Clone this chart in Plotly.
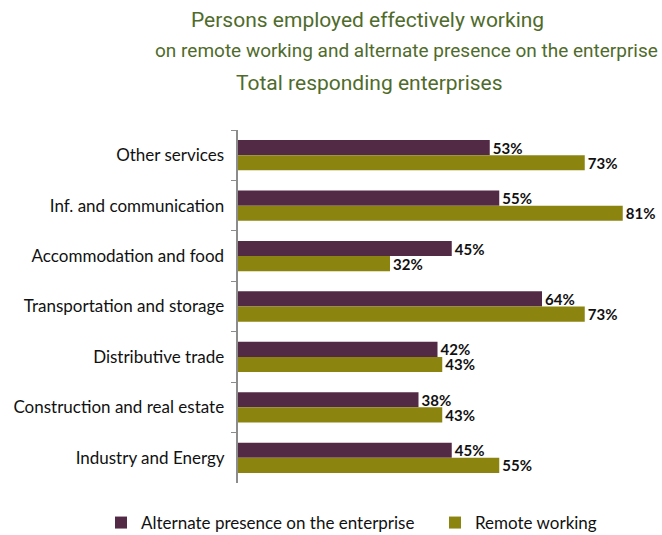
import plotly.graph_objects as go

categories = [
    "Other services",
    "Inf. and communication",
    "Accommodation and food",
    "Transportation and storage",
    "Distributive trade",
    "Construction and real estate",
    "Industry and Energy",
]
alternate_presence = [53, 55, 45, 64, 42, 38, 45]
remote_working = [73, 81, 32, 73, 43, 43, 55]

series_names = ["Alternate presence on the enterprise", "Remote working"]
title_lines = [
    "Persons employed effectively working",
    "on remote working and alternate presence on the enterprise",
    "Total responding enterprises",
]

purple = "#532A45"
olive = "#8B8510"
title_color = "#4F6B2B"
body_font = "Lato, Carlito, sans-serif"
title_font = "Roboto, sans-serif"

fig = go.Figure()
for i, (name, vals, col) in enumerate([
    (series_names[0], alternate_presence, purple),
    (series_names[1], remote_working, olive),
]):
    fig.add_trace(go.Bar(
        y=categories,
        x=vals,
        name=name,
        orientation="h",
        marker=dict(color=col, line=dict(width=0)),
        text=[f"{v}%" for v in vals],
        textposition="outside",
        constraintext="none",
        textfont=dict(family=body_font, size=15, color="#111111", weight="bold"),
        cliponaxis=False,
        legend="legend" if i == 0 else "legend2",
    ))

# three-line heading
title_y = [20, 50, 83]
title_x = [367, 406, 369]
title_size = [21, 19, 21]
for txt, yy, xx, fs in zip(title_lines, title_y, title_x, title_size):
    fig.add_annotation(
        text=txt,
        xref="paper", yref="paper",
        x=(xx - 238) / 414, y=1 + (130 - yy) / 353,
        xanchor="center", yanchor="middle", showarrow=False,
        font=dict(family=title_font, size=fs, color=title_color),
    )

legend_common = dict(
    orientation="h", yanchor="middle", y=-(523 - 483) / 353, xanchor="left",
    font=dict(family=body_font, size=17, color="#111111"),
    bgcolor="rgba(0,0,0,0)",
)

fig.update_layout(
    width=662, height=535,
    margin=dict(l=238, r=10, t=130, b=52, autoexpand=False),
    paper_bgcolor="white", plot_bgcolor="white",
    barmode="group", bargap=0.4, bargroupgap=0,
    showlegend=True,
    legend=dict(x=(101 - 238) / 414, **legend_common),
    legend2=dict(x=(435 - 238) / 414, **legend_common),
    xaxis=dict(range=[0, 414 / 4.75], visible=False, showgrid=False, zeroline=False),
    yaxis=dict(
        autorange="reversed", showline=True, linecolor="#8C8C8C", linewidth=1.5,
        ticks="outside", tickson="boundaries", ticklen=5, tickcolor="#8C8C8C",
        tickfont=dict(family=body_font, size=17, color="#111111"),
        showgrid=False, ticksuffix="  ",
    ),
)

fig.write_html("out.html")
